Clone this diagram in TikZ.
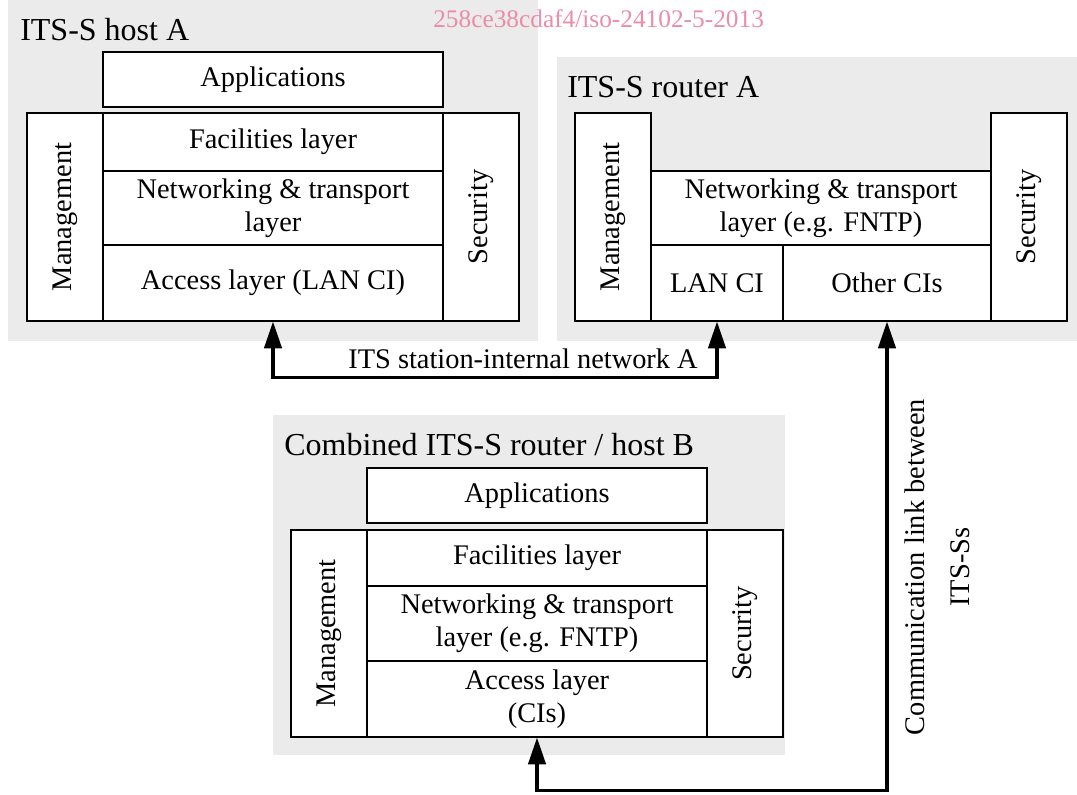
\documentclass[tikz,border=0pt]{standalone}
\usepackage{fontspec}
\setmainfont{Liberation Serif}
\usetikzlibrary{arrows.meta,fit}

\definecolor{panelgray}{RGB}{235,235,235}
\definecolor{markpink}{RGB}{236,140,168}

\tikzset{
	panel/.style={fill=panelgray, draw=none},
	lay/.style={draw, fill=white, line width=0.9pt, inner sep=0pt},
	laytext/.style={align=center, inner sep=0pt, font=\fontsize{21.3}{25}\selectfont},
	sidetext/.style={rotate=90, inner sep=0pt, font=\fontsize{21.3}{25}\selectfont},
	title/.style={anchor=base west, inner sep=0pt, font=\fontsize{24}{28}\selectfont},
	link/.style={line width=2.4pt, {Triangle[length=20pt,width=13pt]}-{Triangle[length=20pt,width=13pt]}}
}

\begin{document}
\begin{tikzpicture}[x=0.75pt, y=-0.75pt]

	\useasboundingbox (0,0) rectangle (1077,794);

	% grey panels
	\fill[panel] (8,0) rectangle (538,341);
	\fill[panel] (557,57) rectangle (1077,341);
	\fill[panel] (273,415) rectangle (785,755);

	\node[anchor=base west, inner sep=0pt, text=markpink, font=\fontsize{19}{22}\selectfont] (wmark) at (433,27) {258ce38cdaf4/iso-24102-5-2013};

	% ITS-S host A
	\node[title] (tHostA) at (20,40) {ITS-S host A};
	\node[lay, fit={(103,52) (443,107)}] (appA) {};
	\node[lay, fit={(27,113) (103,321)}] (mgA) {};
	\node[lay, fit={(443,113) (519,321)}] (seA) {};
	\node[lay, fit={(103,113) (443,171)}] (facA) {};
	\node[lay, fit={(103,171) (443,245)}] (netA) {};
	\node[lay, fit={(103,245) (443,321)}] (accA) {};
	\node[laytext] at (appA) {Applications};
	\node[laytext] at (facA) {Facilities layer};
	\node[laytext] at (netA) {Networking \& transport\\layer};
	\node[laytext] at (accA) {Access layer (LAN CI)};
	\node[sidetext] at (mgA) {Management};
	\node[sidetext] at (seA) {Security};

	% ITS-S router A
	\node[title] (tRouterA) at (567,97) {ITS-S router A};
	\node[lay, fit={(575,113) (651,321)}] (mgR) {};
	\node[lay, fit={(991,113) (1067,321)}] (seR) {};
	\node[lay, fit={(651,171) (991,245)}] (netR) {};
	\node[lay, fit={(651,245) (783,321)}] (lanR) {};
	\node[lay, fit={(783,245) (991,321)}] (othR) {};
	\node[laytext] at (netR) {Networking \& transport\\layer (e.g. FNTP)};
	\node[laytext] at (lanR) {LAN CI};
	\node[laytext] at (othR) {Other CIs};
	\node[sidetext] at (mgR) {Management};
	\node[sidetext] at (seR) {Security};

	% combined router / host B
	\node[title] (tHostB) at (284,455) {Combined ITS-S router / host B};
	\node[lay, fit={(367,468) (707,523)}] (appB) {};
	\node[lay, fit={(291,530) (367,737)}] (mgB) {};
	\node[lay, fit={(707,530) (783,737)}] (seB) {};
	\node[lay, fit={(367,530) (707,586)}] (facB) {};
	\node[lay, fit={(367,586) (707,661)}] (netB) {};
	\node[lay, fit={(367,661) (707,737)}] (accB) {};
	\node[laytext] at (appB) {Applications};
	\node[laytext] at (facB) {Facilities layer};
	\node[laytext] at (netB) {Networking \& transport\\layer (e.g. FNTP)};
	\node[laytext] at (accB) {Access layer\\(CIs)};
	\node[sidetext] at (mgB) {Management};
	\node[sidetext] at (seB) {Security};

	% links
	\draw[link] (accA.south) -- ++(0,56) -| (lanR.south);
	\node[laytext] (lblA) at (523,359) {ITS station-internal network A};
	\draw[link] (accB.south) -- ++(0,53) -| (othR.south);
	\node[rotate=90, align=center, inner sep=0pt, font=\fontsize{21.3}{34}\selectfont] (lblB) at (937,567) {Communication link between\\ITS-Ss};

\end{tikzpicture}
\end{document}
